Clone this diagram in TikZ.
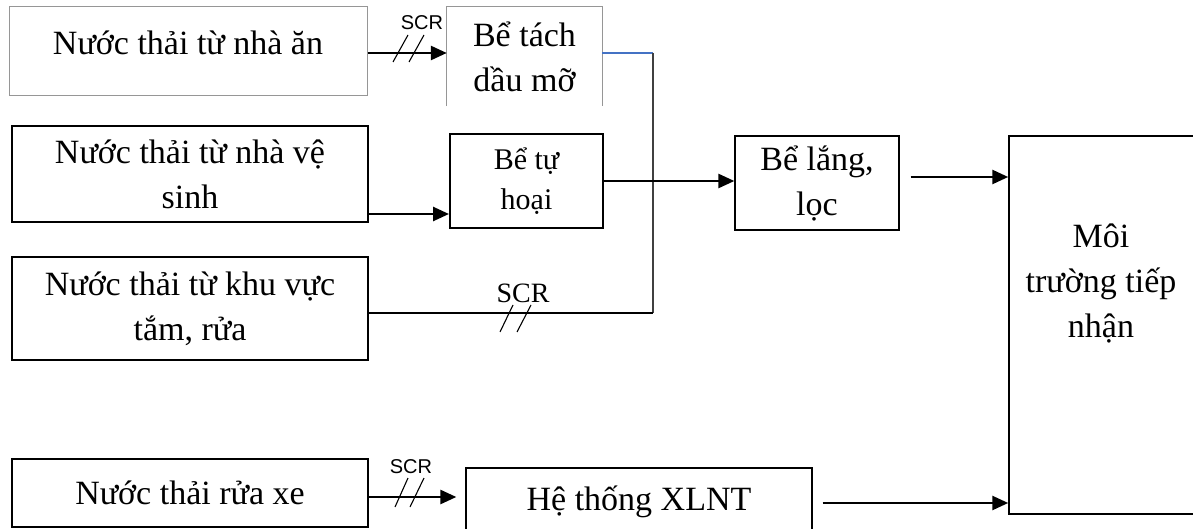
\documentclass[tikz,border=0pt]{standalone}
\usepackage{fontspec}
\setmainfont{Liberation Serif}
\newfontfamily\scrsans{Liberation Sans}
\usepackage{tikz}
\usetikzlibrary{arrows.meta, positioning, calc}
\definecolor{linkblue}{RGB}{68, 114, 196}
\definecolor{edgegray}{RGB}{150, 150, 150}

\tikzset{
    box/.style={draw, line width=1.3pt, inner sep=0pt, align=center, font=\fontsize{34}{45}\selectfont},
    boldbox/.style={box, line width=2pt},
    greybox/.style={box, draw=edgegray, line width=1pt},
    txt/.style={inner sep=0pt, align=center, font=\fontsize{34}{45}\selectfont},
    flow/.style={line width=2.6pt},
    pipe/.style={line width=1.3pt},
    slash/.style={line width=1.1pt},
    scrlabel/.style={inner sep=0pt, font=\scrsans\fontsize{20}{22}\selectfont},
}

\begin{document}
\begin{tikzpicture}[x=1pt, y=-1pt, >={Triangle[length=16pt,width=14pt]}]
    \useasboundingbox (0,0) rectangle (1193,529);
    % sources
    \node[greybox, minimum width=358pt, minimum height=89pt] (nhaan) at (188,51.5) {};
    \node[txt] (nhaan-t) at (188,43) {Nước thải từ nhà ăn};
    \node[boldbox, minimum width=356pt, minimum height=96pt] (vesinh) at (190,174) {Nước thải từ nhà vệ\\sinh};
    \node[boldbox, minimum width=356pt, minimum height=103pt] (tam) at (190,308.5) {Nước thải từ khu vực\\tắm, rửa};
    \node[box, minimum width=356pt, minimum height=68pt] (xe) at (190,493) {Nước thải rửa xe};
    % treatment
    \node[txt, minimum width=155pt, minimum height=99pt] (tach) at (524.5,56.5) {Bể tách\\dầu mỡ};
    \draw[edgegray, line width=1pt] (tach.south west) -- (tach.north west) -- (tach.north east) -- (tach.south east);
    \node[boldbox, minimum width=153pt, minimum height=94pt, font=\fontsize{30}{40}\selectfont] (hoai) at (526.5,181) {Bể tự\\hoại};
    \node[box, minimum width=164pt, minimum height=94pt] (loc) at (817,183) {Bể lắng,\\lọc};
    \node[box, minimum width=346pt, minimum height=68pt] (xlnt) at (639,502) {Hệ thống XLNT};
    \node[box, line width=1.5pt, minimum width=185pt, minimum height=378pt] (moi) at (1101.5,325) {};
    \node[txt] (moi-t) at (1101,283) {Môi\\trường tiếp\\nhận};
    % junction
    \coordinate (jt) at (653,53);
    \coordinate (jb) at (653,313);
    % connectors
    \draw[flow, ->] (nhaan.east |- jt) -- (jt -| tach.west);
    \draw[linkblue, pipe] (tach.east |- jt) -- (jt);
    \draw[black!75, pipe] (jt) -- (jb);
    \draw[flow] (tam.east |- jb) -- (jb);
    \draw[flow, ->] ($(vesinh.south east)+(0,-9)$) -- ($(vesinh.south east -| hoai.west)+(0,-9)$);
    \draw[flow, ->] (hoai.east) -- (hoai.east -| loc.west);
    \draw[flow, ->] ($(loc.east)+(11,-6)$) -- ($(loc.east -| moi.west)+(0,-6)$);
    \draw[flow, ->] ($(xe.east)+(0,4)$) -- ($(xe.east -| xlnt.west)+(-9,4)$);
    \draw[flow, ->] ($(xlnt.east)+(10,1)$) -- ($(xlnt.east -| moi.west)+(0,1)$);
    % SCR marks
    \node[scrlabel] (scr1) at (422,23) {SCR};
    \draw[slash] (393,62) -- (408,35);
    \draw[slash] (409,62) -- (424,35);
    \node[inner sep=0pt, font=\fontsize{28}{30}\selectfont] (scr2) at (523,293) {SCR};
    \draw[slash] (500,332) -- (513,305);
    \draw[slash] (517,332) -- (531,305);
    \node[scrlabel] (scr3) at (411,467) {SCR};
    \draw[slash] (395,507) -- (408,478);
    \draw[slash] (410,507) -- (424,478);
\end{tikzpicture}
\end{document}
